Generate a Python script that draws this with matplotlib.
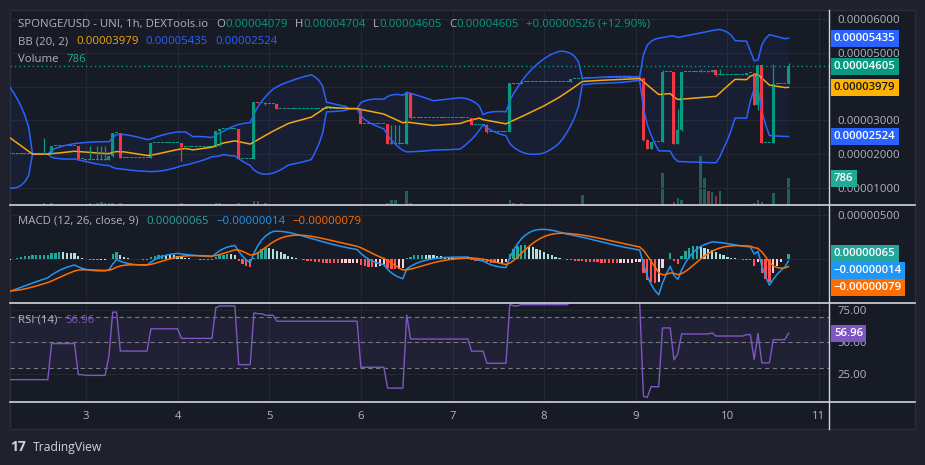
import numpy as np
import pandas as pd
import matplotlib
matplotlib.use("Agg")
import matplotlib.pyplot as plt
from matplotlib import transforms
from matplotlib.patches import Rectangle
from matplotlib.lines import Line2D
from matplotlib.ticker import FuncFormatter

plt.rcParams['font.family'] = ['Open Sans', 'DejaVu Sans']

# ---------------- data (prices in units of 1e-5 USD, hour 0 = day 3 00:00) ----------------
start_hour = -120
last_hour = 184
ev_hour = [-120, -55, -50, -46, -42, -33, -11, -9, -2, 0, 1, 3, 4, 5, 6, 7, 9, 17, 25, 26,
           34, 35, 40, 44, 45, 47, 50, 72, 79, 80, 81, 82, 84, 85, 101, 105, 111, 112, 114, 127,
           130, 146, 147, 148, 151, 154, 155, 156, 157, 161, 162, 163, 164, 165, 166, 173, 175, 176, 177, 180,
           184]
ev_open = [3.30, 3.30, 4.10, 3.50, 2.90, 3.64, 2.00, 2.00, 2.24, 1.846, 1.83, 1.83, 1.83, 1.83, 1.83, 1.94, 2.62, 1.89, 2.32, 2.21,
           2.21, 2.685, 2.74, 1.846, 3.54, 3.52, 3.48, 3.35, 2.89, 2.31, 2.31, 2.31, 2.31, 3.80, 3.06, 2.87, 2.65, 4.10, 4.07, 4.15,
           4.22, 4.25, 2.42, 2.15, 2.35, 4.43, 2.31, 2.71, 4.45, 4.43, 4.43, 4.46, 4.44, 4.50, 4.35, 4.35, 4.40, 3.47, 4.64, 2.34,
           4.079]
ev_high = [3.30, 4.15, 4.10, 3.50, 3.70, 3.64, 2.47, 2.24, 2.24, 1.846, 2.24, 2.24, 2.24, 2.24, 1.94, 2.62, 2.62, 2.32, 2.32, 2.21,
           2.685, 2.74, 2.74, 3.54, 3.54, 3.54, 3.49, 3.36, 2.89, 2.86, 2.86, 2.86, 3.82, 3.80, 3.07, 2.89, 4.10, 4.10, 4.15, 4.22,
           4.25, 4.25, 2.44, 2.35, 4.50, 4.43, 3.33, 4.45, 4.45, 4.52, 4.43, 4.47, 4.50, 4.50, 4.525, 4.40, 4.40, 4.64, 4.64, 4.67,
           4.704]
ev_low = [3.30, 3.30, 3.45, 2.85, 2.90, 1.95, 2.00, 2.00, 1.846, 1.83, 1.83, 1.83, 1.83, 1.83, 1.83, 1.92, 1.89, 1.89, 1.80, 2.21,
          2.21, 2.23, 1.846, 1.846, 3.52, 3.47, 3.35, 2.89, 2.31, 2.31, 2.31, 2.31, 2.31, 3.04, 2.87, 2.64, 2.65, 4.07, 4.07, 4.15,
          4.22, 2.40, 2.15, 2.15, 2.35, 2.31, 2.31, 2.69, 4.43, 4.43, 4.43, 4.44, 4.44, 4.33, 4.35, 4.35, 3.47, 3.31, 2.34, 2.34,
          4.079]
ev_close = [3.30, 4.10, 3.50, 2.90, 3.64, 2.00, 2.00, 2.24, 1.846, 1.83, 1.83, 1.83, 1.83, 1.83, 1.94, 2.62, 1.89, 2.32, 2.21, 2.21,
            2.685, 2.74, 1.846, 3.54, 3.52, 3.48, 3.35, 2.89, 2.31, 2.31, 2.31, 2.31, 3.80, 3.06, 2.87, 2.65, 4.10, 4.07, 4.15, 4.22,
            4.25, 2.42, 2.15, 2.35, 4.43, 2.31, 2.71, 4.45, 4.43, 4.43, 4.43, 4.44, 4.50, 4.35, 4.35, 4.40, 3.47, 4.64, 2.34, 4.07,
            4.605]
ev_volume = [0, 200, 150, 150, 200, 300, 60, 60, 30, 30, 60, 60, 90, 60, 60, 60, 60, 30, 60, 30,
             50, 70, 60, 120, 120, 60, 30, 30, 60, 150, 150, 30, 410, 60, 30, 30, 150, 60, 60, 30,
             295, 30, 30, 30, 940, 90, 205, 150, 30, 1440, 790, 410, 370, 265, 410, 30, 60, 150, 90, 350,
             786]

day_hours = [0, 24, 48, 72, 96, 120, 144, 168, 192]
day_labels = ["3", "4", "5", "6", "7", "8", "9", "10", "11"]

header_title = "SPONGE/USD - UNI, 1h, DEXTools.io"
header_ohlc = [("O", "0.00004079"), ("H", "0.00004704"), ("L", "0.00004605"), ("C", "0.00004605")]
header_change = "+0.00000526 (+12.90%)"
bb_label = "BB (20, 2)"
bb_last = [("0.00003979", 3.979), ("0.00005435", 5.435), ("0.00002524", 2.524)]
vol_last = ("786", 786)
macd_label = "MACD (12, 26, close, 9)"
macd_last = [("0.00000065", 0.065), ("\u22120.00000014", -0.014), ("\u22120.00000079", -0.079)]
rsi_label = "RSI (14)"
rsi_last = ("56.96", 56.96)
last_price = ("0.00004605", 4.605)
price_ticks = [1, 2, 3, 4, 5, 6]
price_ticks_hidden = [4]          # covered by the price badges in the reference
macd_ticks = [0, 0.5]
macd_ticks_hidden = [0]
rsi_ticks = [25, 50, 75]

# ---------------- build hourly series ----------------
hours = np.arange(start_hour, last_hour + 1)
n = len(hours)
o = np.zeros(n); hi = np.zeros(n); lo = np.zeros(n); c = np.zeros(n); vol = np.zeros(n)
ev_index = {h: i for i, h in enumerate(ev_hour)}
prev = ev_close[0]
for k, h in enumerate(hours):
    if h in ev_index:
        i = ev_index[h]
        o[k], hi[k], lo[k], c[k], vol[k] = ev_open[i], ev_high[i], ev_low[i], ev_close[i], ev_volume[i]
    else:
        o[k] = hi[k] = lo[k] = c[k] = prev
    prev = c[k]

close = pd.Series(c)
basis = close.rolling(20).mean()
sd = close.rolling(20).std(ddof=0)
upper = basis + 2 * sd
lower = basis - 2 * sd
ema12 = close.ewm(span=12, adjust=False).mean()
ema26 = close.ewm(span=26, adjust=False).mean()
macd = ema12 - ema26
signal = macd.ewm(span=9, adjust=False).mean()
hist = macd - signal
diff = close.diff()
ag = diff.clip(lower=0).ewm(alpha=1 / 14, adjust=False).mean()
al = (-diff.clip(upper=0)).ewm(alpha=1 / 14, adjust=False).mean()
rsi = 100 - 100 / (1 + ag / al)

# ---------------- colours ----------------
OUTER = '#1f222d'
PANE = '#171b26'
BORDER = '#2a2e39'
GRID = '#242833'
TXT = '#b2b5be'
SEP = '#d1d4dc'
GREEN = '#089981'
RED = '#f23645'
BLUE = '#2962ff'
ORANGE = '#f5a70f'
MACD_C = '#2196f3'
SIG_C = '#ff6d00'
PURPLE = '#7e57c2'

W, H = 925, 465
fig = plt.figure(figsize=(W / 100, H / 100), dpi=100, facecolor=OUTER)
PX = transforms.Affine2D().scale(1 / W, -1 / H).translate(0, 1) + fig.transFigure

fig.add_artist(Rectangle((10, 10), 905, 419, transform=PX, fc=PANE, ec=BORDER, lw=1, zorder=-5))


def add_px_axes(x0, y0, x1, y1):
    return fig.add_axes([x0 / W, 1 - y1 / H, (x1 - x0) / W, (y1 - y0) / H])


XLIM = (-19.9, 194.6)
FS = 8.2


def price_fmt(hidden):
    return FuncFormatter(lambda v, p: "" if any(abs(v - h) < 1e-9 for h in hidden) else f"{v * 1e-5:.8f}")


def style(ax):
    ax.set_facecolor('none')
    for s in ax.spines.values():
        s.set_visible(False)
    ax.set_xlim(*XLIM)
    ax.set_xticks(day_hours)
    ax.set_xticklabels(day_labels)
    ax.grid(True, color=GRID, lw=0.8)
    ax.set_axisbelow(True)
    ax.yaxis.tick_right()
    ax.tick_params(axis='both', length=0)
    ax.tick_params(axis='x', labelbottom=False)
    ax.tick_params(axis='y', labelsize=FS, labelcolor=TXT, pad=5.8)


# ---------------- main pane ----------------
ax = add_px_axes(10, 10, 829, 205)
ax_vol = ax.twinx()
style(ax)
ax.set_ylim(0.49, 6.276)
ax.set_yticks(price_ticks)
ax.yaxis.set_major_formatter(price_fmt(price_ticks_hidden))
ax.set_zorder(2)
ax_vol.set_zorder(1)
ax.patch.set_visible(False)
for s in ax_vol.spines.values():
    s.set_visible(False)
ax_vol.set_yticks([])
ax_vol.set_ylim(0, 5740)
ax_vol.set_xlim(*XLIM)

up = c >= o
cols = np.where(up, GREEN, RED)
vcols = np.where(up, '#26a69a', '#ef5350')
ax_vol.bar(hours, vol, width=0.68, color=vcols, alpha=0.5, linewidth=0)

ax.fill_between(hours, lower, upper, color=BLUE, alpha=0.06, linewidth=0)
ax.plot(hours, upper, color=BLUE, lw=1.1)
ax.plot(hours, lower, color=BLUE, lw=1.1)
ax.plot(hours, basis, color=ORANGE, lw=1.1)

min_body = (6.276 - 0.49) / 195 * 1.0
body = np.abs(c - o)
body_h = np.maximum(body, min_body)
ax.vlines(hours, lo, hi, colors=cols, lw=0.9)
ax.bar(hours, body_h, bottom=np.minimum(o, c), width=0.78, color=cols, linewidth=0)
ax.axhline(last_price[1], color=GREEN, lw=1, ls=(0, (1, 2.2)))

# ---------------- MACD pane ----------------
axm = add_px_axes(10, 205, 829, 303)
style(axm)
axm.set_ylim(-0.493, 0.613)
axm.set_yticks(macd_ticks)
axm.yaxis.set_major_formatter(price_fmt(macd_ticks_hidden))
hv = hist.values
hp = hist.shift(1).values
hcols = []
for a, b in zip(hv, hp):
    rising = (not np.isnan(b)) and a > b
    if a >= 0:
        hcols.append('#26a69a' if rising else '#b2dfdb')
    else:
        hcols.append('#ffcdd2' if rising else '#ff5252')
axm.bar(hours, hv, width=0.6, color=hcols, linewidth=0)
axm.plot(hours, macd, color=MACD_C, lw=1.1)
axm.plot(hours, signal, color=SIG_C, lw=1.1)

# ---------------- RSI pane ----------------
axr = add_px_axes(10, 303, 829, 402)
style(axr)
axr.set_ylim(3.36, 80.7)
axr.set_yticks(rsi_ticks)
axr.yaxis.set_major_formatter(FuncFormatter(lambda v, p: f"{v:.2f}"))
axr.axhspan(30, 70, color=PURPLE, alpha=0.1, lw=0)
for lvl in (70, 50, 30):
    axr.axhline(lvl, color='#787b86', lw=0.8, ls=(0, (4, 3)))
axr.plot(hours, rsi, color=PURPLE, lw=1.0)
axr.tick_params(axis='x', labelbottom=True, pad=6.2, labelsize=8.2, labelcolor=TXT)

# ---------------- separators ----------------
for yy in (205, 303, 402):
    fig.add_artist(Line2D([10, 915], [yy, yy], transform=PX, color=SEP, lw=1.2, zorder=5))
fig.add_artist(Line2D([829, 829], [10, 429], transform=PX, color=SEP, lw=1.0, zorder=5))


# ---------------- text helpers ----------------
renderer = fig.canvas.get_renderer()


def seq(x, y, pieces, size=FS):
    for s, col, gap in pieces:
        t = fig.text(x, y, s, transform=PX, color=col, fontsize=size, ha='left', va='center', zorder=7)
        bb = t.get_window_extent(renderer)
        x = bb.x1 + gap


def to_px(axis, val):
    return H - axis.transData.transform((0, val))[1]


def badge(ypx, text, bg, fg='white'):
    fig.text(834, ypx, text, transform=PX, ha='left', va='center', fontsize=FS, color=fg,
             fontweight='semibold', zorder=8,
             bbox=dict(boxstyle='square,pad=0.28', fc=bg, ec='none'))


# header
pieces = [(header_title, TXT, 8)]
for lab, val in header_ohlc:
    pieces += [(lab, TXT, 0.5), (val, GREEN, 7)]
pieces += [(header_change, GREEN, 0)]
seq(18, 24.5, pieces)
seq(18, 42, [(bb_label, TXT, 8), (bb_last[0][0], ORANGE, 7), (bb_last[1][0], BLUE, 7), (bb_last[2][0], BLUE, 0)])
seq(18, 59, [("Volume", TXT, 8), (vol_last[0], '#22ab94', 0)])
seq(18, 221, [(macd_label, TXT, 8), (macd_last[0][0], '#26a69a', 7), (macd_last[1][0], MACD_C, 7),
              (macd_last[2][0], SIG_C, 0)])
seq(18, 320, [(rsi_label, TXT, 8), (rsi_last[0], PURPLE, 0)])

# price-scale badges
badge(to_px(ax, bb_last[1][1]), bb_last[1][0], BLUE)
badge(to_px(ax, last_price[1]), last_price[0], GREEN)
badge(to_px(ax, bb_last[0][1]), bb_last[0][0], '#ffb300', fg='#131722')
badge(to_px(ax, bb_last[2][1]), bb_last[2][0], BLUE)
badge(to_px(ax_vol, vol_last[1]), vol_last[0], '#22ab94')
y0 = to_px(axm, macd_last[0][1])
badge(y0, macd_last[0][0], '#26a69a')
badge(y0 + 17, macd_last[1][0], MACD_C)
badge(y0 + 34, macd_last[2][0], SIG_C)
badge(to_px(axr, rsi_last[1]), rsi_last[0], PURPLE)

# branding
fig.text(10, 447, "17", transform=PX, color='#d1d4dc', fontsize=10, fontweight='bold', ha='left', va='center')
fig.text(32.5, 447, "TradingView", transform=PX, color='#d1d4dc', fontsize=8.7, ha='left', va='center')

fig.savefig("out.png", dpi=100, facecolor=OUTER)
